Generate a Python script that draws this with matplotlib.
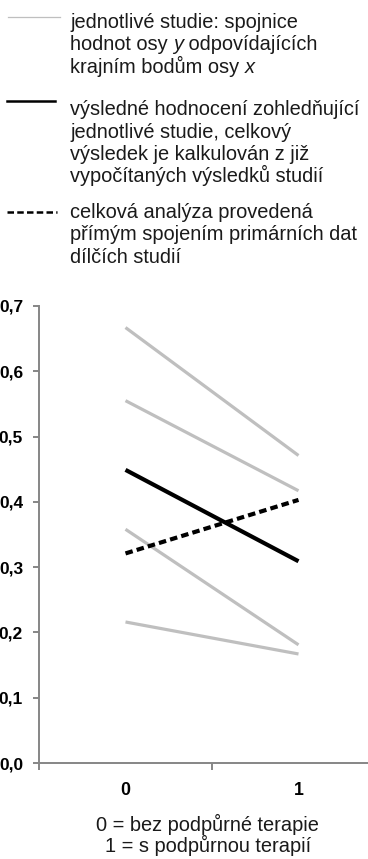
import matplotlib
matplotlib.use('Agg')
import matplotlib.pyplot as plt
from matplotlib.lines import Line2D
from matplotlib.ticker import FuncFormatter

plt.rcParams['font.family'] = ['Liberation Sans', 'DejaVu Sans']

# data
categories = [0, 1]
studies = [
    [0.667, 0.471],
    [0.555, 0.417],
    [0.358, 0.181],
    [0.216, 0.167],
]
combined = [0.449, 0.309]
pooled = [0.321, 0.403]

# each legend line is a list of (text, italic) pieces
legend_texts = [
    [[('jednotlivé studie: spojnice', False)],
     [('hodnot osy ', False), ('y', True), (' odpovídajících', False)],
     [('krajním bodům osy ', False), ('x', True)]],
    [[('výsledné hodnocení zohledňující', False)],
     [('jednotlivé studie, celkový', False)],
     [('výsledek je kalkulován z již', False)],
     [('vypočítaných výsledků studií', False)]],
    [[('celková analýza provedená', False)],
     [('přímým spojením primárních dat', False)],
     [('dílčích studií', False)]],
]
xlabel_lines = ['0 = bez podpůrné terapie', '1 = s podpůrnou terapií']

W, H = 368, 859
fig = plt.figure(figsize=(W / 100, H / 100), dpi=100)
renderer = fig.canvas.get_renderer()

def fx(px):
    return px / W

def fy(py):
    return 1 - py / H

# legend on top
gray = '#bfbfbf'
axis_gray = '#868686'
txt_color = '#1a1a1a'
fig.add_artist(Line2D([fx(8), fx(60)], [fy(17), fy(17)], color=gray, lw=0.9))
fig.add_artist(Line2D([fx(7), fx(55)], [fy(101), fy(101)], color='black', lw=1.8))
fig.add_artist(Line2D([fx(7), fx(57)], [fy(212), fy(212)], color='black', lw=1.8,
                      dashes=(2.6, 1.3)))
first_baseline = [28, 115, 218]
pitch = 22.5
for lines, y0 in zip(legend_texts, first_baseline):
    for i, pieces in enumerate(lines):
        x = 70
        for t, it in pieces:
            txt = fig.text(fx(x), fy(y0 + i * pitch), t, fontsize=14.4, color=txt_color,
                           va='baseline', ha='left',
                           style='italic' if it else 'normal')
            x += txt.get_window_extent(renderer).width

ax = fig.add_axes([fx(39), fy(763), 346 / W, 457 / H])
for s in studies:
    ax.plot(categories, s, color=gray, lw=2.3, solid_capstyle='butt')
ax.plot(categories, combined, color='black', lw=3, solid_capstyle='butt')
ax.plot(categories, pooled, color='black', lw=3, dashes=(1.8, 1.0))

ax.set_xlim(-0.5, 1.5)
ax.set_ylim(0, 0.7)
for side in ['top', 'right']:
    ax.spines[side].set_visible(False)
for side in ['left', 'bottom']:
    ax.spines[side].set_color(axis_gray)
    ax.spines[side].set_linewidth(1.4)

ax.set_yticks([0, 0.1, 0.2, 0.3, 0.4, 0.5, 0.6, 0.7])
ax.yaxis.set_major_formatter(FuncFormatter(lambda v, p: f'{v:.1f}'.replace('.', ',')))
ax.tick_params(axis='y', length=4.5, width=1.4, color=axis_gray, pad=7,
               labelsize=12.5)
ax.set_xticks(categories)
ax.set_xticklabels(['0', '1'])
ax.set_xticks([-0.5, 0.5, 1.5], minor=True)
ax.tick_params(axis='x', which='major', length=0, pad=14, labelsize=12.8)
ax.tick_params(axis='x', which='minor', length=5, width=1.4, color=axis_gray)
for lab in ax.get_xticklabels() + ax.get_yticklabels():
    lab.set_fontweight('bold')

xc = ax.transAxes.transform((0.5, 0))[0] / W - 0.012
for i, t in enumerate(xlabel_lines):
    fig.text(xc, fy(831 + i * 21.5), t, fontsize=14.4, color=txt_color,
             ha='center', va='baseline')

fig.savefig('out.png', dpi=100)
